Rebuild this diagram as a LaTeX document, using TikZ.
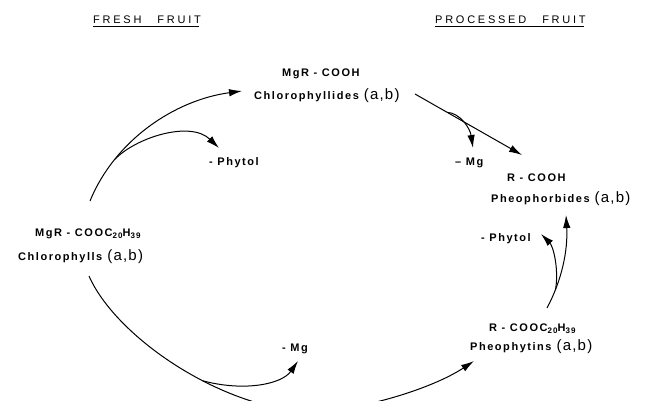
\documentclass[tikz,border=0pt]{standalone}
\usepackage{fontspec}
\setmainfont{Liberation Sans}
\usetikzlibrary{arrows.meta}
\newcommand{\ab}{\hspace{5pt}{\fontsize{15}{15}\mdseries\addfontfeature{LetterSpace=8}\selectfont(a,b)}}
\newcommand{\sbs}[1]{\raisebox{-2pt}{\fontsize{8}{8}\selectfont #1}}
\begin{document}
\begin{tikzpicture}[x=1pt,y=-1pt,
  lbl/.style={inner sep=0pt,anchor=base west,font=\fontsize{11}{12}\bfseries\addfontfeature{LetterSpace=14}\selectfont},
  head/.style={inner sep=0pt,anchor=base west,font=\fontsize{11}{12}\addfontfeature{LetterSpace=25}\selectfont},
  arr/.style={line width=1pt,-{Latex[length=13pt,width=7.5pt]}}]
\useasboundingbox (0,0) rectangle (646,400);
\clip (0,0) rectangle (646,400);
% headings
\node[head] (fresh) at (93,23) {FRESH\hspace{16pt}FRUIT};
\node[head] (proc) at (435,23) {PROCESSED\hspace{16pt}FRUIT};
\draw[line width=0.9pt] ([yshift=-3pt]fresh.south west) -- ([yshift=-3pt,xshift=-2pt]fresh.south east);
\draw[line width=0.9pt] ([yshift=-3pt]proc.south west) -- ([yshift=-3pt,xshift=-2pt]proc.south east);
% compounds
\node[lbl] (mgrcooh) at (282,76) {MgR - COOH};
\node[lbl] (chlid) at (254,99) {Chlorophyllides\ab};
\node[lbl] (phy1) at (209,165) {- Phytol};
\node[lbl] (mg1) at (455,165) {-- Mg};
\node[lbl] (rcooh) at (507,181) {R - COOH};
\node[lbl] (pheob) at (491,202) {Pheophorbides\ab};
\node[lbl] (phy2) at (481,241) {- Phytol};
\node[lbl] (mgrcooc) at (35,236) {MgR - COOC\sbs{20}H\sbs{39}};
\node[lbl] (chl) at (18,260) {Chlorophylls\ab};
\node[lbl] (rcooc) at (489,331) {R - COOC\sbs{20}H\sbs{39}};
\node[lbl] (pheoy) at (470,350) {Pheophytins\ab};
\node[lbl] (mg2) at (282,351) {- Mg};
% connector end points
\coordinate (a0) at (90,201);
\coordinate (t1) at (242,91);
\coordinate (t2) at (219,148);
\coordinate (b0) at (415,94);
\coordinate (t3) at (522,155);
\coordinate (t4) at (473,148);
\coordinate (c0) at (547,308);
\coordinate (t5) at (566,215);
\coordinate (t6) at (541,234);
\coordinate (d0) at (89,276);
\coordinate (t7) at (474,361);
\coordinate (t8) at (298,361);
% upper left arc
\draw[arr] (a0) .. controls (115,140) and (175,100) .. coordinate[pos=0.25] (a1) (t1);
\draw[arr] (a1) .. controls (135,138) and (190,120) .. (t2);
% upper right
\draw[arr] (b0) -- coordinate[pos=0.3] (b1) (t3);
\draw[arr] (b1) .. controls (460,113) and (470,128) .. (t4);
% right side
\draw[arr] (c0) .. controls (562,280) and (568,250) .. coordinate[pos=0.22] (c1) (t5);
\draw[arr] (c1) .. controls (559,268) and (553,246) .. (t6);
% bottom arc
\draw[arr] (d0) .. controls (115,335) and (215,405) .. coordinate[pos=0.62] (d1) (305,412)
  .. controls (355,412) and (430,390) .. (t7);
\draw[arr] (d1) .. controls (245,392) and (282,384) .. (t8);
\end{tikzpicture}
\end{document}
